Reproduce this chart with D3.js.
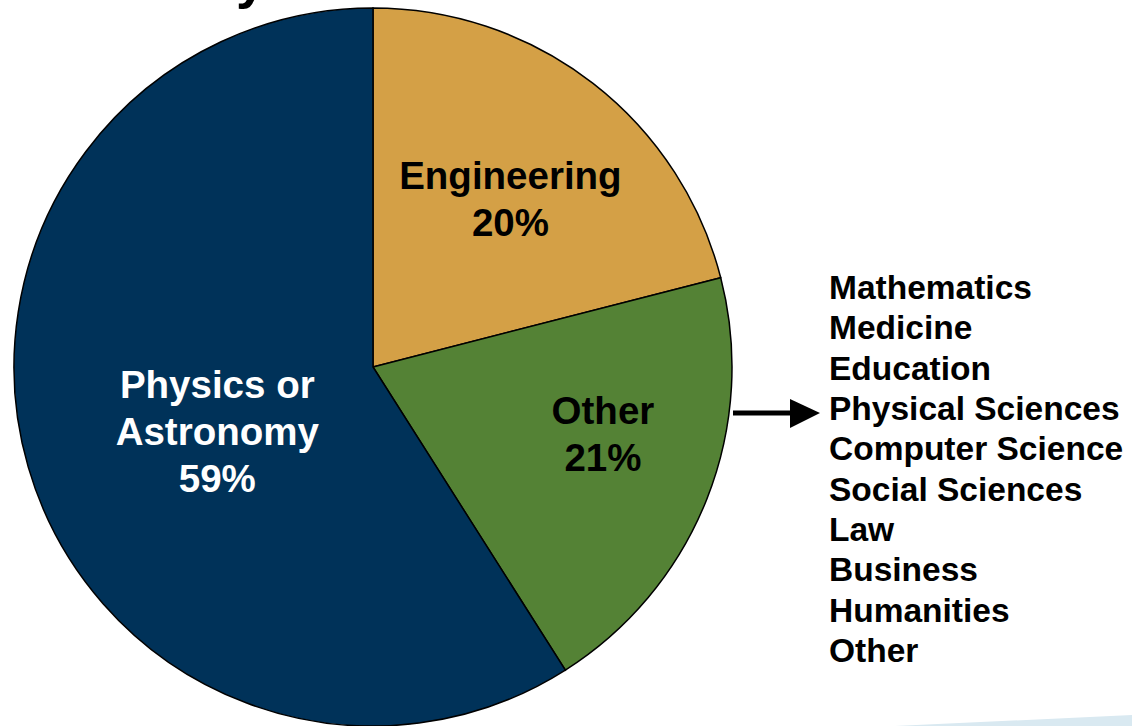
<!DOCTYPE html>
<html>
<head>
<meta charset="utf-8">
<script src="https://cdn.jsdelivr.net/npm/d3@7"></script>
<style>
  body { margin: 0; background: #fff; }
  svg { display: block; }
  text { font-family: "Liberation Sans", Arial, sans-serif; font-weight: bold; }
</style>
</head>
<body>
<div id="chart"></div>
<script>
// slices, clockwise from 12 o'clock
var categories = ["Engineering", "Other", "Physics or Astronomy"];
var shares = [21, 20, 59];
var sliceLabels = [["Engineering", "20%"], ["Other", "21%"], ["Physics or", "Astronomy", "59%"]];
var otherFields = ["Mathematics", "Medicine", "Education", "Physical Sciences", "Computer Science",
                   "Social Sciences", "Law", "Business", "Humanities", "Other"];

var svgWidth = 1132, svgHeight = 726;
var cx = 373, cy = 367, radius = 359;

var svg = d3.select("#chart")
  .append("svg")
  .attr("width", svgWidth)
  .attr("height", svgHeight);

// light blue sliver of the slide background, bottom right
svg.append("path")
  .attr("d", "M895,726 L1132,715 L1132,726 Z")
  .attr("fill", "#d9e9f1");

// bottom of the cut-off title
svg.append("text")
  .attr("x", 236)
  .attr("y", -2)
  .attr("font-size", 54)
  .attr("fill", "#000")
  .text("y");

var color = d3.scaleOrdinal()
  .domain(categories)
  .range(["#d4a046", "#548235", "#003259"]);
var textColor = d3.scaleOrdinal()
  .domain(categories)
  .range(["#000", "#000", "#fff"]);

var pie = d3.pie().sort(null).value(function(d, i) { return shares[i]; });
var arcs = pie(categories);
var arc = d3.arc().innerRadius(0).outerRadius(radius);

var g = svg.append("g").attr("transform", "translate(" + cx + "," + cy + ")");

g.selectAll("path.slice")
  .data(arcs)
  .enter()
  .append("path")
  .attr("class", "slice")
  .attr("d", arc)
  .attr("fill", function(d) { return color(d.data); })
  .attr("stroke", "#000")
  .attr("stroke-width", 1.5);

// label centers, relative to the pie center
var labelArc = d3.arc().innerRadius(radius * 0.62).outerRadius(radius * 0.62);
var labelOffsets = [[1, 7], [23, -15], [58, 2]];
var lineGap = 47;

g.selectAll("text.slice-label")
  .data(arcs)
  .enter()
  .append("text")
  .attr("class", "slice-label")
  .attr("text-anchor", "middle")
  .attr("font-size", 38.5)
  .attr("fill", function(d) { return textColor(d.data); })
  .each(function(d, i) {
    var c = labelArc.centroid(d);
    var lines = sliceLabels[i];
    var x = c[0] + labelOffsets[i][0];
    var y0 = c[1] + labelOffsets[i][1] - (lines.length - 1) * lineGap / 2 + 14;
    var t = d3.select(this);
    lines.forEach(function(s, k) {
      t.append("tspan").attr("x", x).attr("y", y0 + k * lineGap).text(s);
    });
  });

// arrow pointing to the breakdown of "Other"
svg.append("line")
  .attr("x1", 733).attr("y1", 413)
  .attr("x2", 792).attr("y2", 413)
  .attr("stroke", "#000")
  .attr("stroke-width", 5);
svg.append("path")
  .attr("d", "M790,399 L820,413 L790,428 Z")
  .attr("fill", "#000");

// list of fields inside "Other"
var listY = d3.scalePoint()
  .domain(otherFields)
  .range([299, 662]);

svg.selectAll("text.field")
  .data(otherFields)
  .enter()
  .append("text")
  .attr("class", "field")
  .attr("x", 829)
  .attr("y", function(d) { return listY(d); })
  .attr("font-size", 33.5)
  .attr("fill", "#000")
  .text(function(d) { return d; });
</script>
</body>
</html>
